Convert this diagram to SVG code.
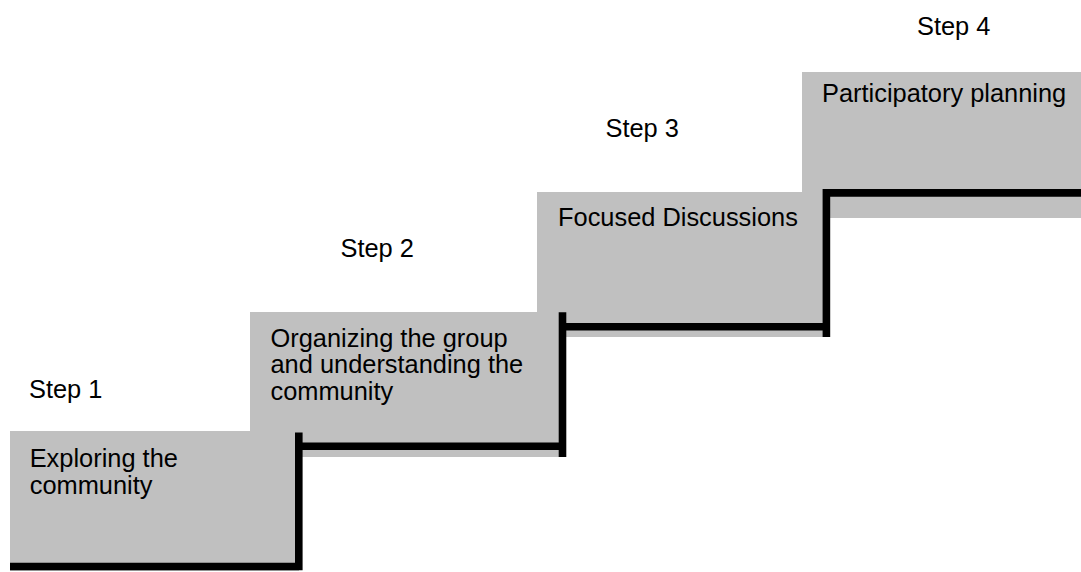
<svg xmlns="http://www.w3.org/2000/svg" width="1081" height="572" viewBox="0 0 1081 572">
<style>
.box{fill:#c0c0c0;stroke:none}
.t{font-family:"Liberation Sans",Arial,sans-serif;font-size:25.4px;fill:#000}
.ln{stroke:#000;stroke-width:7.6;fill:none;stroke-linecap:butt;stroke-linejoin:miter}
</style>
<rect width="1081" height="572" fill="#fff"/>
<g id="step4">
<rect class="box" x="802" y="72" width="279" height="146"/>
<text class="t" x="917" y="35">Step 4</text>
<text class="t" x="822" y="101.7">Participatory planning</text>
</g>
<g id="step3">
<rect class="box" x="537" y="192" width="289" height="145"/>
<text class="t" x="605.5" y="136.7">Step 3</text>
<text class="t" x="558" y="226">Focused Discussions</text>
</g>
<g id="step2">
<rect class="box" x="250" y="312" width="312" height="145"/>
<text class="t" x="340.5" y="256.7">Step 2</text>
<text class="t" x="270.5" y="346.7">Organizing the group</text>
<text class="t" x="270.5" y="373.4">and understanding the</text>
<text class="t" x="270.5" y="400">community</text>
</g>
<g id="step1">
<rect class="box" x="10" y="431" width="289" height="140"/>
<text class="t" x="29" y="398">Step 1</text>
<text class="t" x="29.7" y="466.7">Exploring the</text>
<text class="t" x="29.7" y="494">community</text>
</g>
<g id="connectors">
<path class="ln" d="M10 566.5 H298.8 V432.5"/>
<path class="ln" d="M298.8 446.2 H562.5"/>
<path class="ln" d="M562.5 312.3 V457"/>
<path class="ln" d="M562.5 326.7 H826.4"/>
<path class="ln" d="M826.4 189 V337"/>
<path class="ln" d="M826.4 192.9 H1081"/>
</g>
</svg>
